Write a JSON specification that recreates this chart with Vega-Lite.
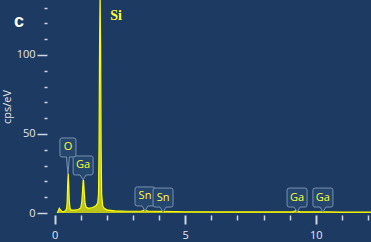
{
  "$schema": "https://vega.github.io/schema/vega-lite/v6.json",
  "width": 325,
  "height": 213,
  "autosize": {"type": "none"},
  "padding": {"left": 46, "top": 0, "right": 0, "bottom": 29},
  "background": "#1d3a63",
  "config": {
    "view": {"stroke": null, "fill": "#1d3a63"},
    "axis": {"labelFont": "Open Sans", "titleFont": "Open Sans", "labelColor": "#e2e7ee", "titleColor": "#e2e7ee", "tickColor": "#ccd5e0", "grid": false, "domain": false, "labelOverlap": false, "labelFlush": false}
  },
  "datasets": {
    "spectrum": [
      {"keV": 0.10, "cps": 0}, {"keV": 0.14, "cps": 1.5}, {"keV": 0.18, "cps": 3}, {"keV": 0.22, "cps": 2},
      {"keV": 0.28, "cps": 1}, {"keV": 0.35, "cps": 0.8}, {"keV": 0.42, "cps": 1.5}, {"keV": 0.46, "cps": 3},
      {"keV": 0.48, "cps": 7}, {"keV": 0.50, "cps": 18}, {"keV": 0.52, "cps": 25}, {"keV": 0.54, "cps": 18},
      {"keV": 0.56, "cps": 8}, {"keV": 0.59, "cps": 3}, {"keV": 0.63, "cps": 1.8}, {"keV": 0.75, "cps": 1.8},
      {"keV": 0.9, "cps": 2.2}, {"keV": 1.0, "cps": 3.2}, {"keV": 1.04, "cps": 7}, {"keV": 1.07, "cps": 14},
      {"keV": 1.09, "cps": 20}, {"keV": 1.10, "cps": 21}, {"keV": 1.11, "cps": 20}, {"keV": 1.13, "cps": 14},
      {"keV": 1.16, "cps": 7}, {"keV": 1.2, "cps": 3.8}, {"keV": 1.3, "cps": 3}, {"keV": 1.45, "cps": 3.5},
      {"keV": 1.58, "cps": 4.5}, {"keV": 1.65, "cps": 6.5}, {"keV": 1.68, "cps": 12}, {"keV": 1.70, "cps": 42},
      {"keV": 1.72, "cps": 105}, {"keV": 1.74, "cps": 138}, {"keV": 1.76, "cps": 105}, {"keV": 1.78, "cps": 42},
      {"keV": 1.80, "cps": 12}, {"keV": 1.84, "cps": 4.5}, {"keV": 1.9, "cps": 3}, {"keV": 2.0, "cps": 2},
      {"keV": 2.3, "cps": 1.4}, {"keV": 2.8, "cps": 1.1}, {"keV": 3.3, "cps": 1.1}, {"keV": 3.40, "cps": 1.6},
      {"keV": 3.45, "cps": 2.2}, {"keV": 3.50, "cps": 1.6}, {"keV": 3.6, "cps": 1.1}, {"keV": 4.13, "cps": 1.0},
      {"keV": 5, "cps": 0.8}, {"keV": 7, "cps": 0.7}, {"keV": 9.1, "cps": 0.7}, {"keV": 9.2, "cps": 1.3},
      {"keV": 9.25, "cps": 1.8}, {"keV": 9.3, "cps": 1.3}, {"keV": 9.4, "cps": 0.7}, {"keV": 10.26, "cps": 0.8},
      {"keV": 11, "cps": 0.6}, {"keV": 12.11, "cps": 0.5}
    ],
    "peaks": [
      {"element": "Ga", "keV": 1.09, "cps": 20.9},
      {"element": "Sn", "keV": 3.46, "cps": 1.3},
      {"element": "Sn", "keV": 4.15, "cps": 0.6},
      {"element": "Ga", "keV": 9.28, "cps": 0.6},
      {"element": "Ga", "keV": 10.27, "cps": 0.6}
    ],
    "peakO": [
      {"element": "O", "keV": 0.51, "cps": 24.7}
    ],
    "notes": [
      {"label": "Si", "keV": 2.35, "cps": 124.5}
    ],
    "panel": [
      {"label": "c", "keV": -1.36, "cps": 121}
    ]
  },
  "encoding": {
    "x": {"field": "keV", "type": "quantitative",
      "scale": {"domain": [-0.33, 12.11], "nice": false, "zero": false},
      "axis": {"title": null, "values": [0,0.5,1,1.5,2,2.5,3,3.5,4,4.5,5,5.5,6,6.5,7,7.5,8,8.5,9,9.5,10,10.5,11,11.5,12],
        "tickCount": 25, "format": "d",
        "labelExpr": "datum.value % 5 === 0 ? datum.label : ''",
        "tickSize": {"condition": {"test": "datum.value % 5 === 0", "value": 9}, "value": 5},
        "tickWidth": {"condition": {"test": "datum.value % 5 === 0", "value": 2}, "value": 1.5},
        "offset": 2, "labelPadding": 5, "labelFontSize": 11}},
    "y": {"field": "cps", "type": "quantitative",
      "scale": {"domain": [0, 134.8], "nice": false},
      "axis": {"title": "cps/eV", "values": [0,10,20,30,40,50,60,70,80,90,100,110,120,130],
        "tickCount": 14, "format": "d",
        "labelExpr": "datum.value % 50 === 0 ? datum.label : ''",
        "tickSize": {"condition": {"test": "datum.value % 50 === 0", "value": 10}, "value": 3},
        "tickWidth": 1.5,
        "offset": -1, "labelPadding": 2, "labelFontSize": 11, "titleFontSize": 11, "titleFontWeight": "normal", "titlePadding": 4}}
  },
  "layer": [
    {
      "data": {"name": "spectrum"},
      "mark": {"type": "area", "color": "#ffff00", "clip": true, "interpolate": "linear", "line": {"color": "#ffff00", "strokeWidth": 1.2}}
    },
    {
      "data": {"name": "peaks"},
      "mark": {"type": "point", "filled": true, "size": 400, "fill": "#25466f", "fillOpacity": 1, "stroke": "#7891ae", "strokeWidth": 1, "opacity": 1,
        "shape": "M0,0 L-0.3,-0.5 L-0.8,-0.5 Q-1,-0.5 -1,-0.7 L-1,-2.2 Q-1,-2.4 -0.8,-2.4 L0.8,-2.4 Q1,-2.4 1,-2.2 L1,-0.7 Q1,-0.5 0.8,-0.5 L0.3,-0.5 Z"}
    },
    {
      "data": {"name": "peaks"},
      "mark": {"type": "text", "color": "#ffff3a", "fontSize": 11, "font": "Open Sans", "dy": -14.5, "baseline": "middle", "align": "center"},
      "encoding": {"text": {"field": "element"}}
    },
    {
      "data": {"name": "peakO"},
      "mark": {"type": "point", "filled": true, "size": 400, "fill": "#25466f", "fillOpacity": 1, "stroke": "#7891ae", "strokeWidth": 1, "opacity": 1,
        "shape": "M0,0 L-0.15,-1.7 L-0.6,-1.7 Q-0.8,-1.7 -0.8,-1.9 L-0.8,-3.4 Q-0.8,-3.6 -0.6,-3.6 L0.6,-3.6 Q0.8,-3.6 0.8,-3.4 L0.8,-1.9 Q0.8,-1.7 0.6,-1.7 L0.15,-1.7 Z"}
    },
    {
      "data": {"name": "peakO"},
      "mark": {"type": "text", "color": "#ffff3a", "fontSize": 11, "font": "Open Sans", "dy": -26.5, "baseline": "middle", "align": "center"},
      "encoding": {"text": {"field": "element"}}
    },
    {
      "data": {"name": "notes"},
      "mark": {"type": "text", "color": "#ffff3a", "fontSize": 14, "font": "Liberation Serif", "fontWeight": "bold", "baseline": "middle", "align": "center"},
      "encoding": {"text": {"field": "label"}}
    },
    {
      "data": {"name": "panel"},
      "mark": {"type": "text", "color": "#ffffff", "fontSize": 18, "font": "Liberation Sans", "fontWeight": "bold", "baseline": "middle", "align": "center"},
      "encoding": {"text": {"field": "label"}}
    }
  ]
}
